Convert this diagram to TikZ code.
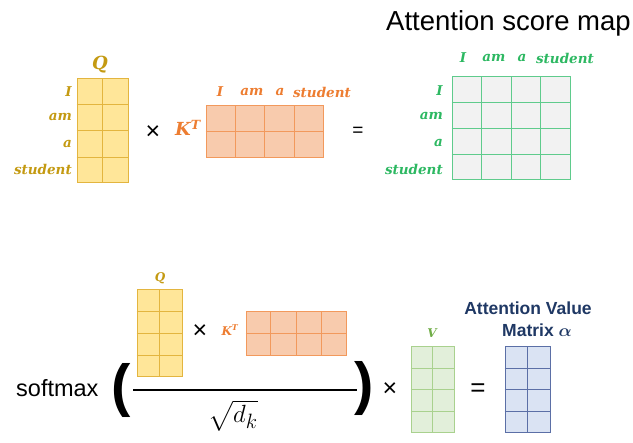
\documentclass[tikz,border=0pt]{standalone}
\usepackage{amsmath,bm}
\usepackage{fontspec}
\setmainfont{Liberation Sans}
\newfontfamily\wordfont{DejaVu Serif}
\usetikzlibrary{positioning, calc}
\definecolor{qFill}{HTML}{FFE699}
\definecolor{qLine}{HTML}{E3B53F}
\definecolor{qText}{HTML}{C49A12}
\definecolor{kFill}{HTML}{F8CBAD}
\definecolor{kLine}{HTML}{F2995C}
\definecolor{kText}{HTML}{ED7D31}
\definecolor{sFill}{HTML}{F2F2F2}
\definecolor{sLine}{HTML}{5FCB8C}
\definecolor{sText}{HTML}{2DB862}
\definecolor{vFill}{HTML}{E2EFDA}
\definecolor{vLine}{HTML}{A9D18E}
\definecolor{vText}{HTML}{70AD47}
\definecolor{aFill}{HTML}{DAE3F3}
\definecolor{aLine}{HTML}{5B6FA6}
\definecolor{aText}{HTML}{1F3864}

% inner lines of a matrix node: node, columns, rows, line colour
\newcommand{\cellgrid}[4]{%
  \pgfmathtruncatemacro{\lastc}{#2-1}
  \pgfmathtruncatemacro{\lastr}{#3-1}
  \foreach \i in {1,...,\lastc}
    \draw[#4, line width=1pt] ($(#1.north west)!\i/#2!(#1.north east)$) -- ($(#1.south west)!\i/#2!(#1.south east)$);
  \foreach \j in {1,...,\lastr}
    \draw[#4, line width=1pt] ($(#1.north west)!\j/#3!(#1.south west)$) -- ($(#1.north east)!\j/#3!(#1.south east)$);
}

\begin{document}
\begin{tikzpicture}[x=1pt, y=-1pt,
    mat/.style={draw, line width=1pt, inner sep=0pt},
    qmat/.style={mat, draw=qLine, fill=qFill},
    kmat/.style={mat, draw=kLine, fill=kFill},
    smat/.style={mat, draw=sLine, fill=sFill},
    vmat/.style={mat, draw=vLine, fill=vFill},
    amat/.style={mat, draw=aLine, fill=aFill},
    word/.style={font=\wordfont\bfseries\itshape\fontsize{13.5}{13.5}\selectfont, inner sep=0pt},
    big/.style={font=\wordfont\bfseries\itshape\fontsize{18}{18}\selectfont, inner sep=0pt},
    small/.style={font=\wordfont\bfseries\itshape\fontsize{12}{12}\selectfont, inner sep=0pt},
    op/.style={font=\fontsize{25}{25}\selectfont, inner sep=0pt},
    bigop/.style={font=\fontsize{26}{26}\selectfont, inner sep=0pt},
    paren/.style={font=\bfseries\fontsize{58}{58}\selectfont, inner sep=0pt},
    head/.style={font=\bfseries\fontsize{17.5}{17.5}\selectfont, text=aText, inner sep=0pt}]
  \useasboundingbox (0,0) rectangle (633,443);

  % top row: Q x K^T = score map
  \node[qmat, minimum width=51, minimum height=104] (q) at (102.5,131) {};
  \cellgrid{q}{2}{4}{qLine}
  \node[big, text=qText] (qlab) at (100,65) {Q};
  \node[word, text=qText, anchor=east] (qi) at (72,92) {I};
  \node[word, text=qText, anchor=east] (qam) at (72,117) {am};
  \node[word, text=qText, anchor=east] (qa) at (72,144) {a};
  \node[word, text=qText, anchor=east] (qst) at (72,169) {student};

  \node[op] (times1) at (153,133) {×};

  \node[kmat, minimum width=117, minimum height=52] (k) at (264.5,132) {};
  \cellgrid{k}{4}{2}{kLine}
  \node[big, text=kText] (klab) at (188,128) {K\textsuperscript{T}};
  \foreach \w/\x in {I/220, am/252, a/280, student/322}
    \node[word, text=kText] (k-\w) at (\x,92) {\w};

  \node[font=\fontsize{19}{19}\selectfont, inner sep=0pt] (eq1) at (358,132) {=};

  \node[font=\fontsize{27.5}{27.5}\selectfont, anchor=west, inner sep=0pt] (title) at (386,23) {Attention score map};
  \node[smat, minimum width=118, minimum height=103] (s) at (511,128.5) {};
  \cellgrid{s}{4}{4}{sLine}
  \foreach \w/\x in {I/463, am/494, a/522, student/565}
    \node[word, text=sText] (sc-\w) at (\x,58) {\w};
  \foreach \w/\y in {I/91, am/116, a/143, student/169}
    \node[word, text=sText, anchor=east] (sr-\w) at (443,\y) {\w};

  % bottom row: softmax(Q K^T / sqrt(d_k)) x V = attention value
  \node[font=\fontsize{23.5}{23.5}\selectfont, anchor=base west, inner sep=0pt] (softmax) at (16,397) {softmax};
  \node[paren] (lpar) at (121,391) {(};
  \node[paren] (rpar) at (364,389) {)};
  \draw[line width=2pt] (133,390) -- (357,390);

  \node[qmat, minimum width=45, minimum height=87] (q2) at (159.5,333.5) {};
  \cellgrid{q2}{2}{4}{qLine}
  \node[small, text=qText] (q2lab) at (160,278) {Q};
  \node[op] (times2) at (200,332) {×};
  \node[small, text=kText] (k2lab) at (230,330) {K\textsuperscript{T}};
  \node[kmat, minimum width=100, minimum height=44] (k2) at (296,334) {};
  \cellgrid{k2}{4}{2}{kLine}

  \node[anchor=north, inner sep=0pt, font=\fontsize{32}{32}\selectfont] (sqrt) at (233,400) {$\sqrt{d_k}$};

  \node[op] (times3) at (390,390) {×};
  \node[small, text=vText] (vlab) at (432,333) {V};
  \node[vmat, minimum width=43, minimum height=86] (v) at (432.5,390) {};
  \cellgrid{v}{2}{4}{vLine}

  \node[bigop] (eq2) at (478,390) {=};
  \node[amat, minimum width=45, minimum height=86] (a) at (527.5,390) {};
  \cellgrid{a}{2}{4}{aLine}
  \node[head] (atitle) at (528,308) {Attention Value};
  \node[head] (atitle2) at (537,330) {Matrix $\bm{\alpha}$};
\end{tikzpicture}
\end{document}
